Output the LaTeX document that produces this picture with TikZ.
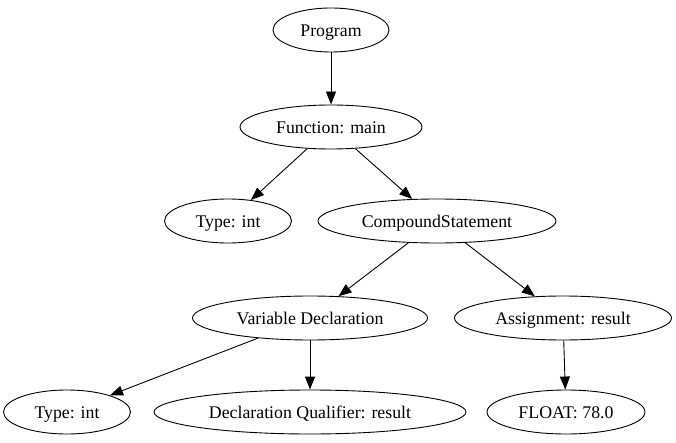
\documentclass[tikz,border=0pt]{standalone}
\usepackage{fontspec}
\setmainfont{Liberation Serif}
\usetikzlibrary{shapes,arrows.meta}
\tikzset{
    %Define standard arrow tip
    >={Triangle[length=13pt,width=10pt]},
    %Define style for tree nodes
    knot/.style={
           ellipse,
           draw,
           line width=0.9pt,
           inner sep=0pt,
           minimum height=44pt,
           text height=13pt,
           text depth=0pt,
           font=\fontsize{17.8}{20}\selectfont,
           text centered},
    % Define arrow style
    pil/.style={
           ->,
           line width=0.9pt}
}
\begin{document}
\begin{tikzpicture}[x=1pt, y=-1pt]
 \useasboundingbox (0,0) rectangle (676,443);
 % top of the tree
 \node [knot, minimum width=116pt] (program) at (331,30) {Program};
 \node [knot, minimum width=182pt] (func) at (331,127) {Function: main};

 % second level
 \node [knot, minimum width=127pt] (ftype) at (228,221) {Type: int};
 \node [knot, minimum width=238pt] (compound) at (437,221) {CompoundStatement};

 % statements
 \node [knot, minimum width=235pt] (vardecl) at (310,318) {Variable Declaration};
 \node [knot, minimum width=217pt] (assign) at (563,318) {Assignment: result};

 % leaves
 \node [knot, minimum width=127pt] (vtype) at (67,412) {Type: int};
 \node [knot, minimum width=312pt] (qual) at (310,412) {Declaration Qualifier: result};
 \node [knot, minimum width=158pt] (float) at (566,412) {FLOAT: 78.0};

 % paths
 \draw [pil] (program) -- (func);
 \draw [pil] (func) -- (ftype);
 \draw [pil] (func) -- (compound);
 \draw [pil] (compound) -- (vardecl);
 \draw [pil] (compound) -- (assign);
 \draw [pil] (vardecl) -- (vtype);
 \draw [pil] (vardecl) -- (qual);
 \draw [pil] (assign) -- (float);
\end{tikzpicture}
\end{document}
